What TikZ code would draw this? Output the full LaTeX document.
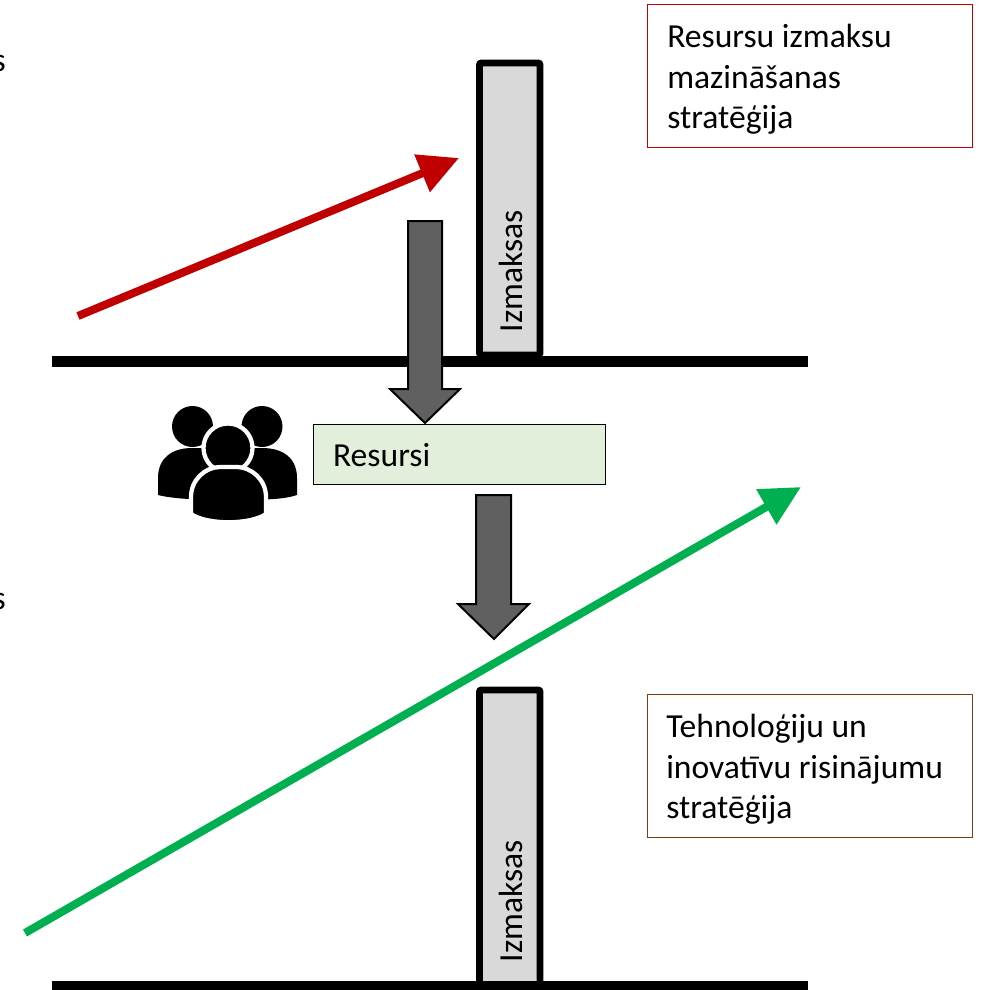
\documentclass[tikz,border=0pt]{standalone}
\usepackage{fontspec}
\setmainfont{Carlito}
\definecolor{bargray}{HTML}{D9D9D9}
\definecolor{darkblock}{HTML}{606060}
\definecolor{resgreen}{HTML}{E2EFDA}
\definecolor{redline}{HTML}{C00000}
\definecolor{greenline}{HTML}{00B050}
\definecolor{brownline}{HTML}{843C0C}
\usetikzlibrary{arrows.meta}
\tikzset{
  x=0.75pt,y=-0.75pt,
  txt/.style={font=\fontsize{25.2}{30.4}\selectfont,text=black},
  labelbox/.style={draw,line width=1.1pt,fill=white,anchor=north west,inner sep=0pt},
  barbox/.style={draw=black,line width=5.2pt,fill=bargray,rounded corners=1.5pt,inner sep=0pt,anchor=north west},
  ground/.style={line width=8pt,black},
  trend/.style={line width=6pt,-{Triangle[length=30pt,width=29pt]}},
  blockarrow/.style={draw=black,line width=1.5pt,fill=darkblock,line join=miter},
  person/.style={fill=black,draw=none},
  ring/.style={fill=black,draw=white,line width=3.2pt}
}
\begin{document}
\begin{tikzpicture}
\useasboundingbox (0,0) rectangle (984,990);
% cropped letters at the left edge
\node[txt,anchor=base east,inner sep=0pt] (cutA) at (6,71) {s};
\node[txt,anchor=base east,inner sep=0pt] (cutB) at (6,609) {s};
% ground lines
\coordinate (g1a) at (52,361.5); \coordinate (g1b) at (808,361.5);
\coordinate (g2a) at (52,986.5); \coordinate (g2b) at (808,986.5);
% bars
\draw[barbox] (479.5,63) rectangle (540,355);
\node[txt,rotate=90] (bar1) at (510.5,271) {Izmaksas};
\draw[barbox] (479.5,690) rectangle (540,992);
\node[txt,rotate=90] (bar2) at (510.5,901) {Izmaksas};
\draw[ground] (g1a) -- (g1b);
\draw[ground] (g2a) -- (g2b);
% block arrows
\draw[blockarrow] (408,221) -- (442,221) -- (442,389) -- (460,389) -- (425,423) -- (390,389) -- (408,389) -- cycle;
% resources
\node[draw=black,line width=1.1pt,fill=resgreen,anchor=north west,minimum width=219pt,minimum height=45pt,inner sep=0pt,text width=204pt,align=left,txt] (res) at (313,424) {\hspace*{7pt}Resursi};
\draw[blockarrow] (476,495) -- (511,495) -- (511,604) -- (529,604) -- (494,639) -- (458,604) -- (476,604) -- cycle;
% trend arrows
\coordinate (r1) at (78,316); \coordinate (r2) at (459,158);
\coordinate (gr1) at (25,933); \coordinate (gr2) at (801,487);
\draw[trend,redline] (r1) -- (r2);
\draw[trend,greenline] (gr1) -- (gr2);
% label boxes
\node[labelbox,draw=redline,minimum width=243.6pt,minimum height=107pt] (lb1) at (647,4) {};
\node[txt,anchor=north west,inner sep=0pt,align=left] (t1) at (667,24) {Resursu izmaksu\\mazināšanas\\stratēģija};
\node[labelbox,draw=brownline,minimum width=243.6pt,minimum height=107pt] (lb2) at (647,694) {};
\node[txt,anchor=north west,inner sep=0pt,align=left] (t2) at (666,714) {Tehnoloģiju un\\inovatīvu risinājumu\\stratēģija};
% people icon
\fill[person] (192.5,426.5) circle (20.5);
\fill[person] (262,426.5) circle (20.5);
\fill[person] (158,495) -- (158,478) .. controls (158,458) and (172,448) .. (192,448) -- (262,448) .. controls (283,448) and (297,458) .. (297,478) -- (297,495) .. controls (285,499) and (270,500) .. (228,500) .. controls (190,500) and (170,498) .. (158,495) -- cycle;
\draw[ring] (228,448) circle (24.5);
\draw[ring] (191,514) -- (191,497) .. controls (191,480) and (205,467) .. (220,467) -- (236,467) .. controls (252,467) and (266,480) .. (266,497) -- (266,514) .. controls (250,525) and (207,525) .. (191,514) -- cycle;
\end{tikzpicture}
\end{document}
